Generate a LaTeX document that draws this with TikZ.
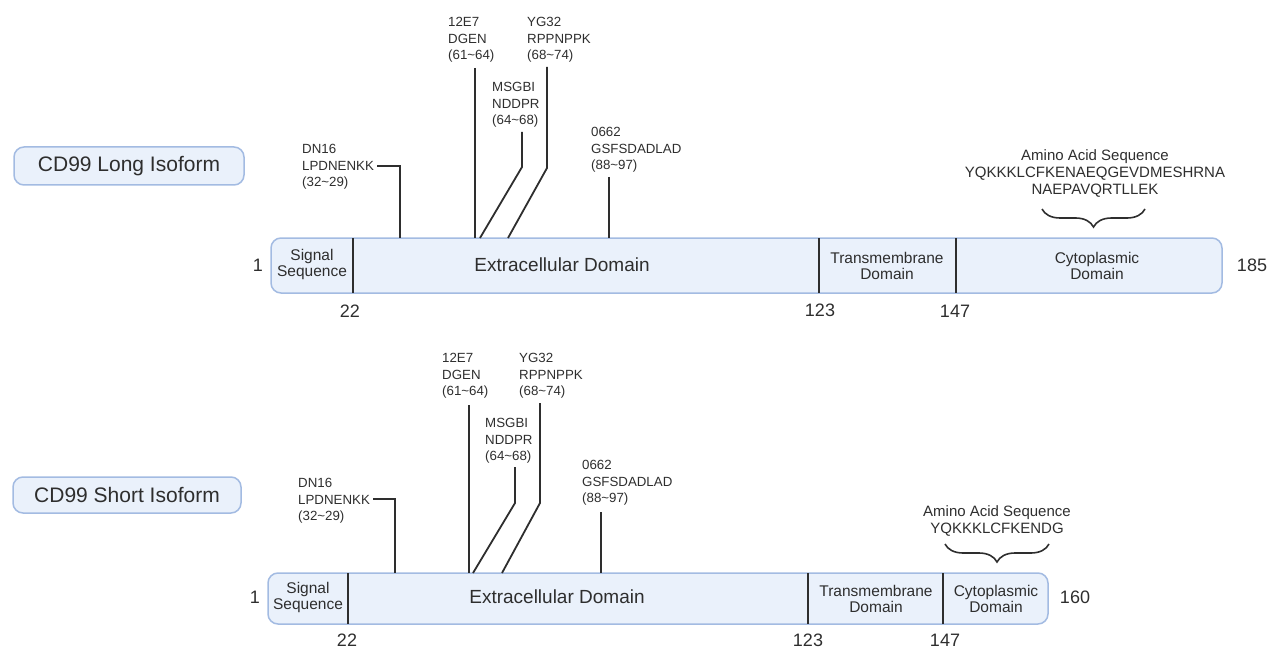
\documentclass[tikz,border=0pt]{standalone}
\usepackage{fontspec}
\setmainfont{Liberation Sans}
\usetikzlibrary{decorations.pathreplacing}
\definecolor{barfill}{HTML}{EAF1FB}
\definecolor{barline}{HTML}{A3BBE2}
\definecolor{ink}{HTML}{2E2E2E}

\begin{document}
\begin{tikzpicture}[x=1pt, y=-1pt, text=ink,
    isoform/.style={draw=barline, fill=barfill, line width=1.5pt, rounded corners=10pt, inner sep=0pt},
    isoname/.style={draw=barline, fill=barfill, line width=1.5pt, rounded corners=10pt, font=\fontsize{21}{24}\selectfont},
    divider/.style={draw=ink, line width=1.8pt},
    leader/.style={draw=ink, line width=1.8pt},
    epitope/.style={align=left, anchor=north west, inner sep=0pt, font=\fontsize{13.3}{16.5}\selectfont},
    domname/.style={align=center, inner sep=0pt, font=\fontsize{15.5}{16}\selectfont},
    bigdomname/.style={inner sep=0pt, font=\fontsize{19}{22}\selectfont},
    resnum/.style={inner sep=0pt, font=\fontsize{18}{20}\selectfont},
    seqtext/.style={align=center, inner sep=0pt, font=\fontsize{15}{17}\selectfont},
    tailbrace/.style={draw=ink, line width=1.6pt, decorate, decoration={brace, mirror, amplitude=18pt}}]
  \useasboundingbox (0,0) rectangle (1278,650);

  % ---------- long isoform ----------
  \node[isoname, minimum width=230pt, minimum height=38pt] (longname) at (129,166) {CD99 Long Isoform};
  \node[isoform, minimum width=951pt, minimum height=55pt] (longbar) at (746.5,265.5) {};
  % domain borders
  \draw[divider] (353,238) -- (353,293);
  \draw[divider] (819,238) -- (819,293);
  \draw[divider] (956,238) -- (956,293);
  % domain names
  \node[domname] (sigL) at (312,264) {Signal\\Sequence};
  \node[bigdomname] (extL) at (562,265) {Extracellular Domain};
  \node[domname] (tmL) at (887,266) {Transmembrane\\Domain};
  \node[domname] (cytL) at (1097,266) {Cytoplasmic\\Domain};
  % residue numbers
  \node[resnum] (oneL) at (258,265) {1};
  \node[resnum] (n22L) at (350,311) {22};
  \node[resnum] (n123L) at (820,310) {123};
  \node[resnum] (n147L) at (955,311) {147};
  \node[resnum] (n185L) at (1252,265) {185};
  % epitopes
  \node[epitope] (dnL) at (302,144.5) {DN16\\LPDNENKK\\(32\textasciitilde29)};
  \node[epitope] (e7L) at (448,17.5) {12E7\\DGEN\\(61\textasciitilde64)};
  \node[epitope] (ygL) at (527,17.5) {YG32\\RPPNPPK\\(68\textasciitilde74)};
  \node[epitope] (msL) at (492,82.5) {MSGBI\\NDDPR\\(64\textasciitilde68)};
  \node[epitope] (ocL) at (591,127.5) {0662\\GSFSDADLAD\\(88\textasciitilde97)};
  \coordinate (dnLtop) at (377,166);  \coordinate (dnLfoot) at (400,238);
  \coordinate (e7Ltop) at (475,68);   \coordinate (e7Lfoot) at (475,238);
  \coordinate (ygLtop) at (547,67);   \coordinate (ygLbend) at (547,168); \coordinate (ygLfoot) at (508,238);
  \coordinate (msLtop) at (522,132);  \coordinate (msLbend) at (522,167); \coordinate (msLfoot) at (480,238);
  \coordinate (ocLtop) at (609,177);  \coordinate (ocLfoot) at (609,238);
  \draw[leader] (dnLtop) -| (dnLfoot);
  \draw[leader] (e7Ltop) -- (e7Lfoot);
  \draw[leader] (ygLtop) -- (ygLbend) -- (ygLfoot);
  \draw[leader] (msLtop) -- (msLbend) -- (msLfoot);
  \draw[leader] (ocLtop) -- (ocLfoot);
  % cytoplasmic tail sequence
  \node[seqtext] (seqL) at (1095,173) {Amino Acid Sequence\\YQKKKLCFKENAEQGEVDMESHRNA\\NAEPAVQRTLLEK};
  \coordinate (braceLa) at (1042,209);
  \coordinate (braceLb) at (1145,209);
  \draw[tailbrace] (braceLa) -- (braceLb);

  % ---------- short isoform ----------
  \node[isoname, minimum width=228pt, minimum height=36pt] (shortname) at (127,495) {CD99 Short Isoform};
  \node[isoform, minimum width=780pt, minimum height=51pt] (shortbar) at (658,598.5) {};
  % domain borders
  \draw[divider] (348,573) -- (348,624);
  \draw[divider] (808,573) -- (808,624);
  \draw[divider] (943,573) -- (943,624);
  % domain names
  \node[domname] (sigS) at (308,597) {Signal\\Sequence};
  \node[bigdomname] (extS) at (557,597) {Extracellular Domain};
  \node[domname] (tmS) at (876,599) {Transmembrane\\Domain};
  \node[domname] (cytS) at (996,599) {Cytoplasmic\\Domain};
  % residue numbers
  \node[resnum] (oneS) at (255,597) {1};
  \node[resnum] (n22S) at (347,640) {22};
  \node[resnum] (n123S) at (808,640) {123};
  \node[resnum] (n147S) at (945,640) {147};
  \node[resnum] (n160S) at (1075,597) {160};
  % epitopes
  \node[epitope] (dnS) at (298,478.5) {DN16\\LPDNENKK\\(32\textasciitilde29)};
  \node[epitope] (e7S) at (442,353.5) {12E7\\DGEN\\(61\textasciitilde64)};
  \node[epitope] (ygS) at (519,353.5) {YG32\\RPPNPPK\\(68\textasciitilde74)};
  \node[epitope] (msS) at (485,418.5) {MSGBI\\NDDPR\\(64\textasciitilde68)};
  \node[epitope] (ocS) at (582,460.5) {0662\\GSFSDADLAD\\(88\textasciitilde97)};
  \coordinate (dnStop) at (373,499);  \coordinate (dnSfoot) at (395,573);
  \coordinate (e7Stop) at (469,405);  \coordinate (e7Sfoot) at (469,573);
  \coordinate (ygStop) at (540,403);  \coordinate (ygSbend) at (540,503); \coordinate (ygSfoot) at (502,573);
  \coordinate (msStop) at (515,467);  \coordinate (msSbend) at (515,503); \coordinate (msSfoot) at (473,573);
  \coordinate (ocStop) at (601,512);  \coordinate (ocSfoot) at (601,573);
  \draw[leader] (dnStop) -| (dnSfoot);
  \draw[leader] (e7Stop) -- (e7Sfoot);
  \draw[leader] (ygStop) -- (ygSbend) -- (ygSfoot);
  \draw[leader] (msStop) -- (msSbend) -- (msSfoot);
  \draw[leader] (ocStop) -- (ocSfoot);
  % cytoplasmic tail sequence
  \node[seqtext] (seqS) at (997,521) {Amino Acid Sequence\\YQKKKLCFKENDG};
  \coordinate (braceSa) at (945,544);
  \coordinate (braceSb) at (1049,544);
  \draw[tailbrace] (braceSa) -- (braceSb);
\end{tikzpicture}
\end{document}
